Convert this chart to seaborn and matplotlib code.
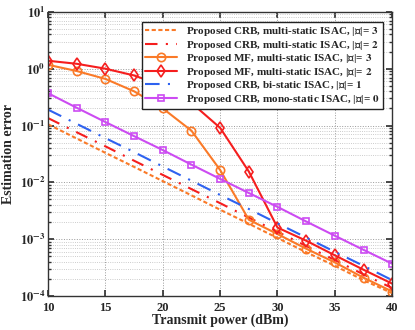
import numpy as np
import pandas as pd
import matplotlib
matplotlib.use("Agg")
import matplotlib.pyplot as plt
from matplotlib.ticker import FuncFormatter
import seaborn as sns

# transmit power (dBm)
power = [10, 12.5, 15, 17.5, 20, 22.5, 25, 27.5, 30, 32.5, 35, 37.5, 40]

crb_multi_g3 = [0.105, 0.059, 0.033, 0.0187, 0.0105, 0.0059, 0.0033, 0.00187,
                0.00105, 0.00059, 0.00034, 0.00019, 0.000112]
crb_multi_g2 = [0.135, 0.076, 0.043, 0.024, 0.0135, 0.0076, 0.0043, 0.0024,
                0.00135, 0.00076, 0.00043, 0.00024, 0.000138]
mf_multi_g3 = [1.17, 0.91, 0.66, 0.40, 0.20, 0.081, 0.0165, 0.0022,
               0.00123, 0.00068, 0.00039, 0.00021, 0.00012]
mf_multi_g2 = [1.38, 1.22, 1.0, 0.76, 0.50, 0.25, 0.091, 0.0155,
               0.0016, 0.00094, 0.00052, 0.00029, 0.000165]
crb_bi_g1 = [0.19, 0.107, 0.060, 0.034, 0.019, 0.0107, 0.0060, 0.0034,
             0.0019, 0.00107, 0.00060, 0.00034, 0.00019]
crb_mono_g0 = [0.37, 0.205, 0.115, 0.065, 0.037, 0.0205, 0.0115, 0.0065,
               0.0037, 0.00205, 0.00115, 0.00065, 0.00037]

labels = [
    r"Proposed CRB, multi-static ISAC, |$\mathcal{G}$|= $\mathbf{3}$",
    r"Proposed CRB, multi-static ISAC, |$\mathcal{G}$|= $\mathbf{2}$",
    r"Proposed MF, multi-static ISAC, |$\mathcal{G}$|= $\mathbf{3}$",
    r"Proposed MF, multi-static ISAC, |$\mathcal{G}$|= $\mathbf{2}$",
    r"Proposed CRB, bi-static ISAC, |$\mathcal{G}$|= $\mathbf{1}$",
    r"Proposed CRB, mono-static ISAC, |$\mathcal{G}$|= $\mathbf{0}$",
]

orange = "#FA7A28"
red = "#F51E1E"
blue = "#2E62F0"
purple = "#CC4BF2"

styles = [
    dict(color=orange, dashes=(2, 1.2), marker=None),
    dict(color=red, dashes=(6, 4, 1, 4), marker=None),
    dict(color=orange, dashes=None, marker="o", ms=6),
    dict(color=red, dashes=None, marker="d", ms=6),
    dict(color=blue, dashes=(7, 4, 1, 4), marker=None),
    dict(color=purple, dashes=None, marker="s", ms=5),
]
series = [crb_multi_g3, crb_multi_g2, mf_multi_g3, mf_multi_g2, crb_bi_g1, crb_mono_g0]

sns.set_theme(style="ticks")
plt.rcParams["font.family"] = ["Liberation Serif", "DejaVu Serif"]
plt.rcParams["font.weight"] = "bold"
plt.rcParams["mathtext.fontset"] = "stix"

fig = plt.figure(figsize=(4.15, 3.30), dpi=100)
ax = fig.add_axes([0.116, 0.103, 0.829, 0.861])

for vals, lab, st in zip(series, labels, styles):
    df = pd.DataFrame({"power": power, "err": vals})
    sns.lineplot(data=df, x="power", y="err", ax=ax, color=st["color"], lw=1.5,
                 marker=st["marker"], markersize=st.get("ms", 6),
                 markerfacecolor="none", markeredgecolor=st["color"],
                 markeredgewidth=1.2, label=lab)
    line = ax.get_lines()[-1]
    if st["dashes"] is not None:
        line.set_dashes(st["dashes"])

ax.set_yscale("log")
ax.set_xlim(10, 40)
ax.set_ylim(1e-4, 10)
ax.set_xticks([10, 15, 20, 25, 30, 35, 40])
ax.yaxis.set_major_formatter(
    FuncFormatter(lambda v, p: r"$\mathbf{10^{%d}}$" % round(np.log10(v))))
ax.grid(True, which="major", ls=":", color="#999999", lw=0.7)
ax.grid(True, which="minor", axis="y", ls=":", color="#bbbbbb", lw=0.6)
ax.tick_params(direction="in", which="both", top=True, right=True, labelsize=9,
               length=4, color="#333333", pad=2)
ax.tick_params(axis="x", pad=4)
ax.tick_params(which="minor", length=2)
for t in ax.get_xticklabels() + ax.get_yticklabels():
    t.set_fontweight("bold")
for s in ax.spines.values():
    s.set_color("#333333")
    s.set_linewidth(1.0)

ax.set_xlabel("Transmit power (dBm)", fontsize=10, fontweight="bold", labelpad=0)
ax.set_ylabel("Estimation error", fontsize=10, fontweight="bold")
ax.yaxis.set_label_coords(-0.095, 0.5)

leg = ax.legend(loc="upper right", bbox_to_anchor=(0.974, 0.965), fontsize=8,
                frameon=True, fancybox=False, edgecolor="#222222",
                framealpha=1, labelspacing=0.05, handlelength=2.9,
                borderpad=0.3, handletextpad=0.8, borderaxespad=0.0)
leg.get_frame().set_linewidth(1.0)
for t in leg.get_texts():
    t.set_fontweight("bold")

fig.savefig("out.png", dpi=100)
